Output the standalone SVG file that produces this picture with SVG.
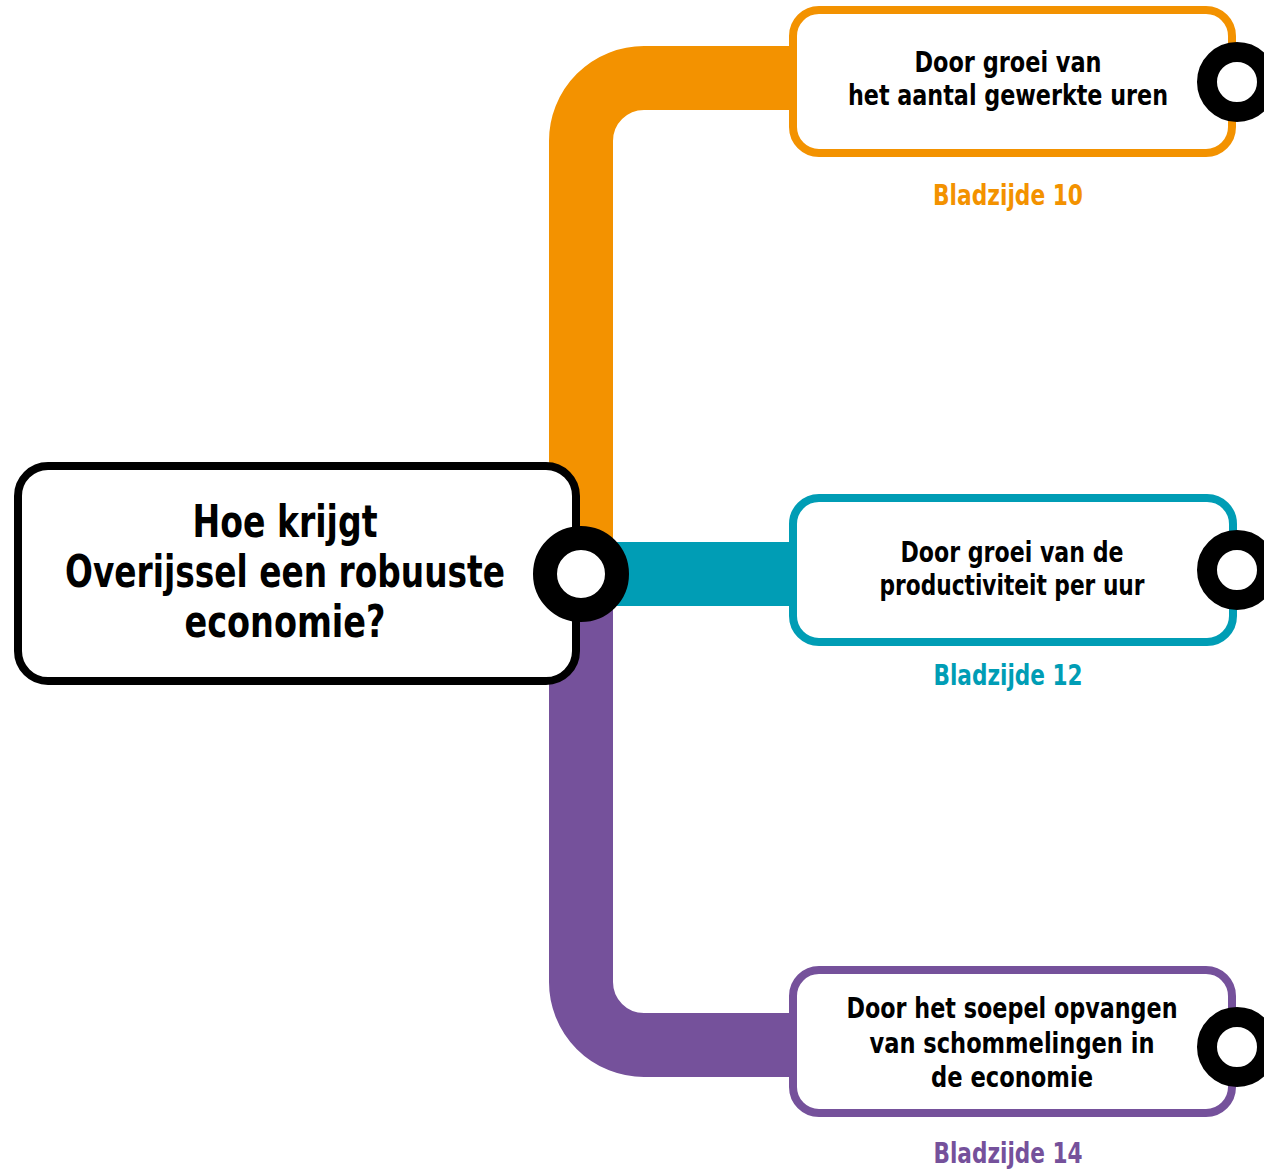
<svg xmlns="http://www.w3.org/2000/svg" width="1264" height="1173" viewBox="0 0 1264 1173">
<style>
.t{font-family:"Liberation Sans Narrow","DejaVu Sans Condensed","Roboto Condensed","Liberation Sans",sans-serif;font-weight:bold;text-anchor:middle}
.band{fill:none;stroke-width:64}
.box{fill:#fff;stroke-width:8}
.ring{fill:#fff;stroke:#000}
</style>
<rect width="1264" height="1173" fill="#fff"/>
<g id="connectors">
<path class="band" stroke="#F39200" d="M 795 78 H 644 A 63 63 0 0 0 581 141 V 574"/>
<path class="band" stroke="#75519B" d="M 581 574 V 982 A 63 63 0 0 0 644 1045 H 795"/>
<path class="band" stroke="#009DB5" d="M 581 574 H 795"/>
</g>
<g id="main">
<rect class="box" x="18" y="466" width="558" height="215" rx="30" stroke="#000"/>
<text class="t" font-size="44" x="285" y="537" textLength="185" lengthAdjust="spacingAndGlyphs">Hoe krijgt</text>
<text class="t" font-size="44" x="285" y="587" textLength="440" lengthAdjust="spacingAndGlyphs">Overijssel een robuuste</text>
<text class="t" font-size="44" x="285" y="637" textLength="201" lengthAdjust="spacingAndGlyphs">economie?</text>
<circle class="ring" cx="581" cy="574" r="36" stroke-width="24"/>
</g>
<g id="node-uren">
<rect class="box" x="793" y="10" width="439" height="143" rx="26" stroke="#F39200"/>
<text class="t" font-size="29" x="1008" y="72" textLength="187" lengthAdjust="spacingAndGlyphs">Door groei van</text>
<text class="t" font-size="29" x="1008" y="105" textLength="320" lengthAdjust="spacingAndGlyphs">het aantal gewerkte uren</text>
<circle class="ring" cx="1237" cy="82" r="30" stroke-width="20"/>
<text class="t" font-size="29" x="1008" y="205" fill="#F39200" textLength="150" lengthAdjust="spacingAndGlyphs">Bladzijde 10</text>
</g>
<g id="node-productiviteit">
<rect class="box" x="793" y="498" width="440" height="144" rx="26" stroke="#009DB5"/>
<text class="t" font-size="29" x="1012" y="562" textLength="223" lengthAdjust="spacingAndGlyphs">Door groei van de</text>
<text class="t" font-size="29" x="1012" y="595" textLength="265" lengthAdjust="spacingAndGlyphs">productiviteit per uur</text>
<circle class="ring" cx="1237" cy="570" r="30" stroke-width="20"/>
<text class="t" font-size="29" x="1008" y="685" fill="#009DB5" textLength="149" lengthAdjust="spacingAndGlyphs">Bladzijde 12</text>
</g>
<g id="node-schommelingen">
<rect class="box" x="793" y="970" width="439" height="143" rx="26" stroke="#75519B"/>
<text class="t" font-size="29" x="1012" y="1018" textLength="331" lengthAdjust="spacingAndGlyphs">Door het soepel opvangen</text>
<text class="t" font-size="29" x="1012" y="1053" textLength="285" lengthAdjust="spacingAndGlyphs">van schommelingen in</text>
<text class="t" font-size="29" x="1012" y="1087" textLength="162" lengthAdjust="spacingAndGlyphs">de economie</text>
<circle class="ring" cx="1237" cy="1047" r="30" stroke-width="20"/>
<text class="t" font-size="29" x="1008" y="1163" fill="#75519B" textLength="149" lengthAdjust="spacingAndGlyphs">Bladzijde 14</text>
</g>
</svg>
